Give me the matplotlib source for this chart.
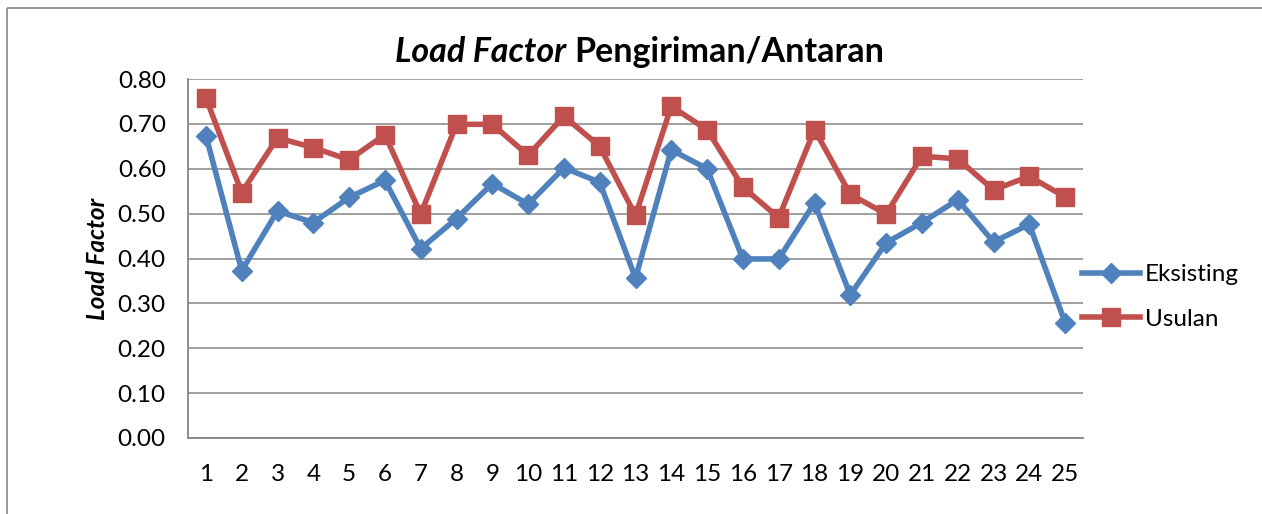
import matplotlib
matplotlib.use("Agg")
import matplotlib.pyplot as plt
from matplotlib.lines import Line2D

# data
kategori = list(range(1, 26))
eksisting = [0.674, 0.373, 0.506, 0.480, 0.536, 0.574, 0.422, 0.489, 0.567, 0.521,
             0.602, 0.570, 0.356, 0.642, 0.600, 0.399, 0.399, 0.524, 0.319, 0.435,
             0.480, 0.531, 0.437, 0.476, 0.257]
usulan = [0.758, 0.547, 0.669, 0.647, 0.620, 0.676, 0.499, 0.699, 0.699, 0.630,
          0.717, 0.650, 0.496, 0.739, 0.687, 0.559, 0.491, 0.687, 0.543, 0.499,
          0.628, 0.622, 0.553, 0.583, 0.537]
yticks = [0.0, 0.1, 0.2, 0.3, 0.4, 0.5, 0.6, 0.7, 0.8]

plt.rcParams['font.family'] = ['Lato', 'DejaVu Sans']
abu = '#868686'

W, H = 1262, 514
fig = plt.figure(figsize=(W / 100, H / 100), dpi=100)
ax = fig.add_axes([188 / W, 1 - 438 / H, (1083 - 188) / W, (438 - 79) / H])

ax.plot(kategori, eksisting, color='#4F81BD', lw=4, marker='D', ms=10.5,
        label='Eksisting', zorder=3)
ax.plot(kategori, usulan, color='#C0504D', lw=4, marker='s', ms=13.5,
        label='Usulan', zorder=3)

ax.set_xlim(0.5, 25.5)
ax.set_ylim(0, 0.8)
ax.set_xticks(kategori)
ax.set_xticklabels([str(k) for k in kategori], fontsize=17.5)
ax.set_yticks(yticks)
ax.set_yticklabels(['%.2f' % v for v in yticks], fontsize=17.5)
ax.tick_params(length=0)
ax.tick_params(axis='y', pad=16)
ax.tick_params(axis='x', pad=19)
ax.grid(axis='y', color=abu, lw=1.1)
ax.set_axisbelow(True)
for s in ['top', 'right']:
    ax.spines[s].set_visible(False)
for s in ['left', 'bottom']:
    ax.spines[s].set_color(abu)
    ax.spines[s].set_linewidth(1.3)

ax.set_ylabel('Load Factor', fontsize=17.5, fontweight='bold', style='italic',
              labelpad=6)

# judul dengan gaya campuran
ty = 1 - 52 / H
fig.text(566 / W, ty, 'Load Factor', fontsize=24.5, fontweight='bold',
         style='italic', ha='right', va='center')
fig.text(574 / W, ty, 'Pengiriman/Antaran', fontsize=24.5, fontweight='bold',
         ha='left', va='center')

fig.legend(loc='center left', bbox_to_anchor=(1082 / W, 1 - 297 / H),
           frameon=False, fontsize=17.5, handlelength=2.4, handletextpad=0.2,
           labelspacing=0.95, borderpad=0, borderaxespad=0)

# bingkai chart (hanya sisi kiri dan atas terlihat)
x0, y0 = 7 / W, 1 - 8 / H
fig.add_artist(Line2D([x0, x0], [0, y0], color=abu, lw=1.2,
                      solid_capstyle='butt', transform=fig.transFigure))
fig.add_artist(Line2D([x0, 1], [y0, y0], color=abu, lw=1.2,
                      solid_capstyle='butt', transform=fig.transFigure))

fig.savefig('out.png', dpi=100)
